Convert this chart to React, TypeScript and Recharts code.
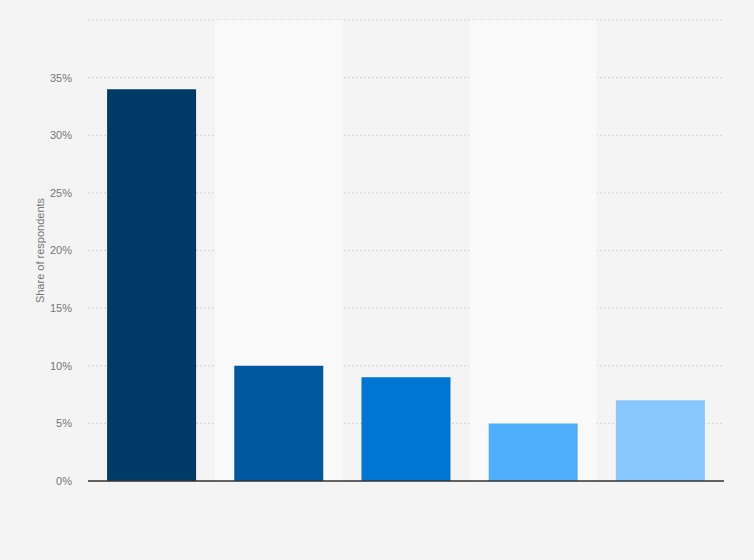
import React from 'react';
import { BarChart, Bar, XAxis, YAxis, CartesianGrid, ReferenceArea, Cell, Label } from 'recharts';

// Five answer groups, labels are not shown in the chart
const categories = ['A', 'B', 'C', 'D', 'E'];
const shares = [34, 10, 9, 5, 7];
const barColors = ['#003a66', '#0058a0', '#0076d4', '#4faffe', '#87c7fe'];
const yTicks = [0, 5, 10, 15, 20, 25, 30, 35, 40];
const shadedCategories = ['B', 'D'];

const data = categories.map((name, i) => ({ name, value: shares[i] }));

const font = '"Liberation Sans", Arial, sans-serif';

export default function App() {
  return (
    <div style={{ width: 754, height: 560, background: '#f4f4f4' }}>
      <style>{'html, body { margin: 0; padding: 0; background: #f4f4f4; }'}</style>
      <BarChart
        width={754}
        height={560}
        data={data}
        margin={{ top: 20, right: 30, left: 0, bottom: 78 }}
        barCategoryGap="15%"
      >
        {shadedCategories.map(c => (
          <ReferenceArea key={c} x1={c} x2={c} fill="#f9f9f9" fillOpacity={1} stroke="none" />
        ))}
        <CartesianGrid vertical={false} stroke="#d4d4d4" strokeDasharray="2 2" />
        <XAxis dataKey="name" tick={false} tickLine={false} height={1} axisLine={{ stroke: '#333', strokeWidth: 1.5 }} />
        <YAxis
          width={88}
          domain={[0, 40]}
          ticks={yTicks}
          interval={0}
          axisLine={false}
          tickLine={false}
          tickMargin={10}
          tick={{ fontSize: 11, fill: '#777', fontFamily: font }}
          tickFormatter={(v: number) => (v === 40 ? '' : `${v}%`)}
        >
          <Label
            value="Share of respondents"
            angle={-90}
            position="insideLeft"
            offset={40}
            style={{ textAnchor: 'middle', fontSize: 11, fill: '#777', fontFamily: font }}
          />
        </YAxis>
        <Bar dataKey="value" isAnimationActive={false}>
          {data.map((d, i) => (
            <Cell key={d.name} fill={barColors[i]} />
          ))}
        </Bar>
      </BarChart>
    </div>
  );
}
